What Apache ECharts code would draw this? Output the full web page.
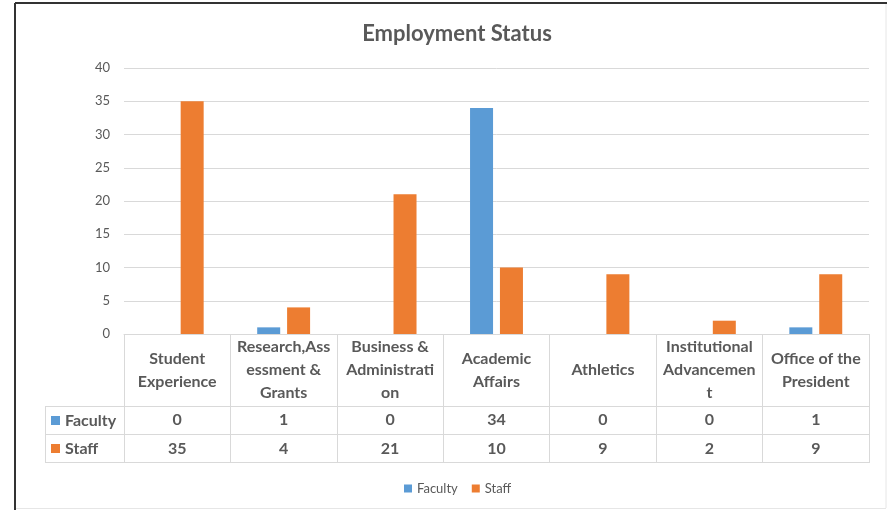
<!DOCTYPE html>
<html><head><meta charset="utf-8">
<script src="https://cdn.jsdelivr.net/npm/echarts@6/dist/echarts.min.js"></script>
<style>html,body{margin:0;padding:0;background:#fff}#c{width:887px;height:510px}</style>
</head><body><div id="c"></div>
<script>
const categories = ['Student Experience','Research,Assessment & Grants','Business & Administration','Academic Affairs','Athletics','Institutional Advancement','Office of the President'];
const categoryLabels = ['Student\nExperience','Research,Ass\nessment &\nGrants','Business &\nAdministrati\non','Academic\nAffairs','Athletics','Institutional\nAdvancemen\nt','Office of the\nPresident'];
const seriesNames = ['Faculty','Staff'];
const faculty = [0,1,0,34,0,0,1];
const staff = [35,4,21,10,9,2,9];

const FONT = 'Lato';
const TXT = '#595959';
const LINE = '#d9d9d9';
const BLUE = '#5b9bd5';
const ORANGE = '#ed7d31';

const chart = echarts.init(document.getElementById('c'), null, {renderer:'canvas'});
const tableLabel = {interval:0, verticalAlign:'middle', color:TXT, fontFamily:FONT, fontWeight:'bold', fontSize:16};
chart.setOption({
  animation:false,
  backgroundColor:'#fff',
  title:{text:'Employment Status', left:452, textAlign:'center', top:18, textStyle:{fontFamily:FONT, fontWeight:'bold', fontSize:22, color:TXT}},
  grid:{left:124, right:18, top:68, bottom:176},
  legend:{data:seriesNames, left:399, top:477, icon:'rect', itemWidth:8, itemHeight:8, itemGap:14,
    textStyle:{fontFamily:FONT, fontSize:13, color:TXT}},
  xAxis:[
    {type:'category', data:categories, position:'bottom',
     axisLine:{lineStyle:{color:LINE}}, axisTick:{show:true, length:129, lineStyle:{color:LINE}},
     axisLabel:Object.assign({}, tableLabel, {margin:36, lineHeight:23, formatter:(v,i)=>categoryLabels[i]})},
    {type:'category', data:categories, position:'bottom', offset:72,
     axisLine:{show:false}, axisTick:{show:false},
     axisLabel:Object.assign({}, tableLabel, {margin:14, formatter:(v,i)=>String(faculty[i])})},
    {type:'category', data:categories, position:'bottom', offset:101,
     axisLine:{show:false}, axisTick:{show:false},
     axisLabel:Object.assign({}, tableLabel, {margin:14, formatter:(v,i)=>String(staff[i])})}
  ],
  yAxis:{type:'value', min:0, max:40, interval:5,
    axisLine:{show:false}, axisTick:{show:false},
    axisLabel:{margin:14, color:TXT, fontFamily:FONT, fontSize:13},
    splitLine:{lineStyle:{color:LINE}}},
  series:[
    {name:seriesNames[0], type:'bar', data:faculty, barWidth:23, barGap:'30%', itemStyle:{color:BLUE}},
    {name:seriesNames[1], type:'bar', data:staff, barWidth:23, barGap:'30%', itemStyle:{color:ORANGE}}
  ],
  graphic:[
    {type:'line', shape:{x1:15, y1:3, x2:887, y2:3}, style:{stroke:'#333', lineWidth:2}},
    {type:'line', shape:{x1:15, y1:3, x2:15, y2:510}, style:{stroke:'#333', lineWidth:2}},
    {type:'line', shape:{x1:886, y1:4, x2:886, y2:508}, style:{stroke:'#e6e6e6', lineWidth:1}},
    {type:'line', shape:{x1:16, y1:508.5, x2:886, y2:508.5}, style:{stroke:'#e6e6e6', lineWidth:1}},
    {type:'line', shape:{x1:45, y1:406.5, x2:869, y2:406.5}, style:{stroke:LINE, lineWidth:1}},
    {type:'line', shape:{x1:45, y1:434.5, x2:869, y2:434.5}, style:{stroke:LINE, lineWidth:1}},
    {type:'line', shape:{x1:45, y1:462.5, x2:869, y2:462.5}, style:{stroke:LINE, lineWidth:1}},
    {type:'line', shape:{x1:45.5, y1:406, x2:45.5, y2:463}, style:{stroke:LINE, lineWidth:1}},
    {type:'rect', shape:{x:51, y:416, width:9, height:9}, style:{fill:BLUE}},
    {type:'text', x:65, y:420.5, style:{text:seriesNames[0], fill:TXT, font:'bold 16px '+FONT, textVerticalAlign:'middle'}},
    {type:'rect', shape:{x:51, y:444, width:9, height:9}, style:{fill:ORANGE}},
    {type:'text', x:65, y:448.5, style:{text:seriesNames[1], fill:TXT, font:'bold 16px '+FONT, textVerticalAlign:'middle'}}
  ]
});
</script></body></html>
